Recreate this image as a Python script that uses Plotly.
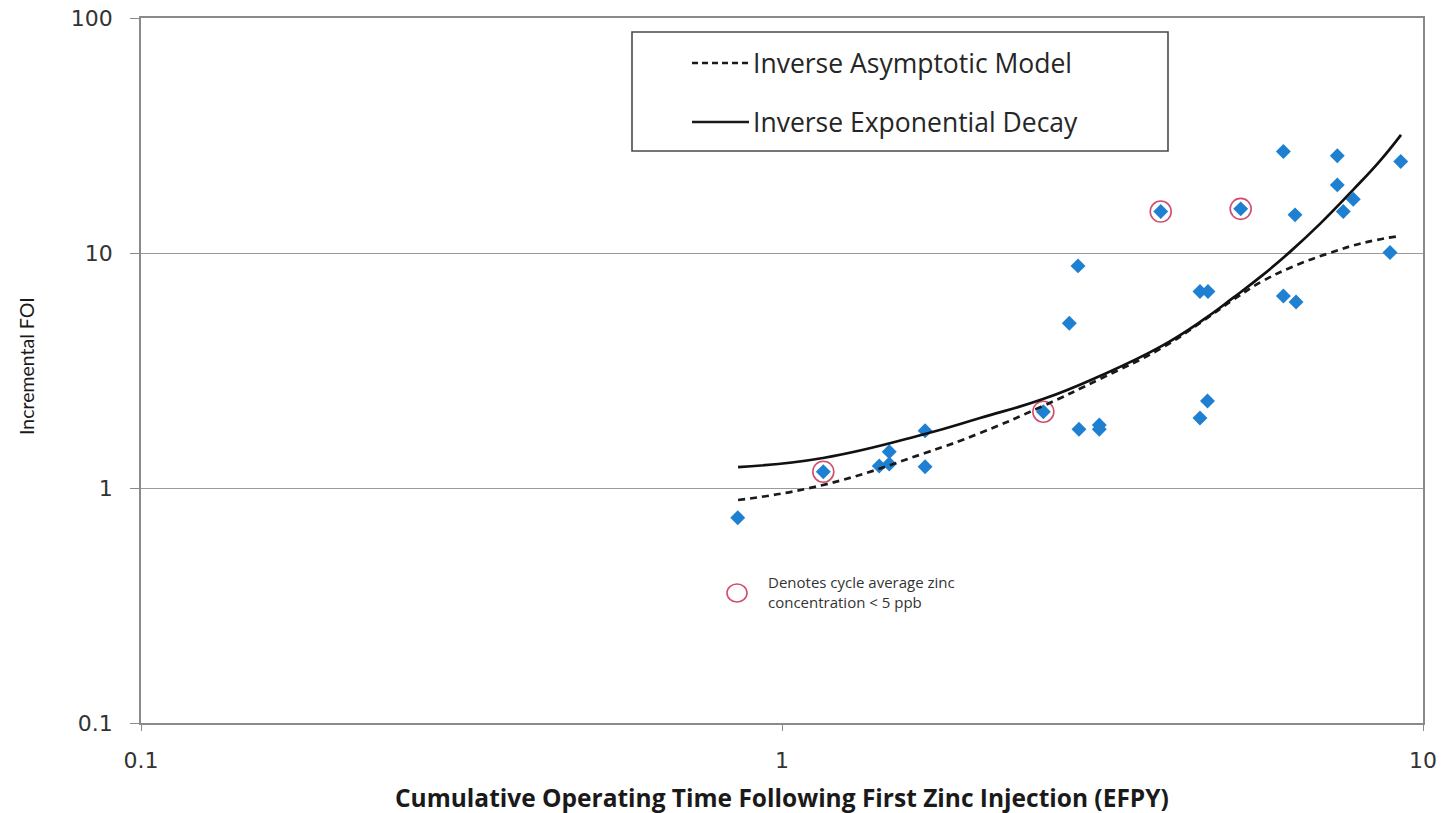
import plotly.graph_objects as go

# Observed incremental FOI versus cumulative operating time (EFPY)
efpy = [0.853, 1.160, 1.418, 1.470, 1.470, 1.672, 1.672, 2.557, 2.807, 2.896,
        2.906, 3.126, 3.126, 3.898, 4.488, 4.619, 4.488, 4.611, 5.195, 6.056,
        6.056, 6.315, 6.338, 7.350, 7.350, 7.510, 7.784, 8.882, 9.231]
foi = [0.747, 1.173, 1.241, 1.427, 1.265, 1.754, 1.232, 2.112, 5.024, 8.814,
       1.778, 1.854, 1.778, 15.01, 6.863, 6.863, 1.986, 2.346, 15.41, 27.02,
       6.568, 14.53, 6.193, 25.91, 19.49, 15.01, 16.94, 10.04, 24.50]
# Cycles with average zinc concentration below 5 ppb
low_zinc_idx = [1, 7, 13, 18]

# Fitted model curves
asym_x = [0.854, 1.159, 1.672, 2.037, 2.554, 3.134, 3.889, 4.537, 5.053,
          5.627, 6.359, 7.160, 8.063, 9.206]
asym_y = [0.889, 1.030, 1.409, 1.714, 2.234, 2.911, 3.906, 5.139, 6.316,
          7.607, 8.898, 10.01, 11.04, 11.82]
expd_x = [0.854, 1.159, 1.672, 2.037, 2.554, 3.134, 3.889, 4.537, 5.053,
          5.627, 6.201, 6.907, 7.779, 8.568, 9.240]
expd_y = [1.228, 1.342, 1.698, 1.986, 2.390, 2.999, 3.984, 5.190, 6.441,
          8.069, 10.11, 13.30, 18.56, 24.67, 31.83]

x_ticks = [0.1, 1, 10]
x_tick_text = ["0.1", "1", "10"]
y_ticks = [0.1, 1, 10, 100]
y_tick_text = ["0.1", "1", "10", "100"]

legend_labels = ["Inverse Asymptotic Model", "Inverse Exponential Decay"]
note_text = "Denotes cycle average zinc<br>concentration &lt; 5 ppb"
x_title = "Cumulative Operating Time Following First Zinc Injection (EFPY)"
y_title = "Incremental FOI"

W, H = 1449, 813
L, R, T, B = 141, 26, 18, 90
pw, ph = W - L - R, H - T - B


def px(xp):
    return (xp - L) / pw


def py(yp):
    return (H - B - yp) / ph


fig = go.Figure()

fig.add_trace(go.Scatter(
    x=[efpy[i] for i in low_zinc_idx], y=[foi[i] for i in low_zinc_idx],
    mode="markers",
    marker=dict(symbol="circle-open", size=21,
                line=dict(color="#d0506c", width=1.6), color="#d0506c"),
    showlegend=False, hoverinfo="skip"))

fig.add_trace(go.Scatter(
    x=efpy, y=foi, mode="markers",
    marker=dict(symbol="diamond", size=11.5, color="#1f80d2",
                line=dict(width=0)),
    showlegend=False))

fig.add_trace(go.Scatter(
    x=asym_x, y=asym_y, mode="lines", line_shape="spline",
    line=dict(color="#1a1a1a", width=2.7, dash="7px,5px", smoothing=1.3),
    name=legend_labels[0], showlegend=False))

fig.add_trace(go.Scatter(
    x=expd_x, y=expd_y, mode="lines", line_shape="spline",
    line=dict(color="#111111", width=2.7, smoothing=1.3),
    name=legend_labels[1], showlegend=False))

tick_font = dict(family="DejaVu Sans", size=22, color="#333333")

fig.update_xaxes(
    type="log", range=[-1, 1], tickvals=x_ticks, ticktext=x_tick_text,
    showgrid=False, showline=True, linecolor="#8a8a8a", linewidth=1.5,
    mirror=True, ticks="outside", ticklen=6, tickcolor="#8a8a8a",
    tickfont=tick_font, ticklabelstandoff=11, zeroline=False,
    automargin=False)

fig.update_yaxes(
    type="log", range=[-1, 2], tickvals=y_ticks, ticktext=y_tick_text,
    showgrid=True, gridcolor="#9a9a9a", gridwidth=1,
    showline=True, linecolor="#8a8a8a", linewidth=1.5, mirror=True,
    ticks="outside", ticklen=9, tickcolor="#8a8a8a",
    tickfont=tick_font, ticklabelstandoff=13, zeroline=False,
    automargin=False)

shapes = []
annotations = []

# Legend box with line samples
shapes.append(dict(type="rect", xref="paper", yref="paper",
                   x0=px(632), x1=px(1168), y0=py(151), y1=py(32),
                   line=dict(color="#4a4a4a", width=1.6),
                   fillcolor="white", layer="above"))
for yp, dash in [(63, "6px,4px"), (122, "solid")]:
    shapes.append(dict(type="line", xref="paper", yref="paper",
                       x0=px(692), x1=px(749), y0=py(yp), y1=py(yp),
                       line=dict(color="#1a1a1a", width=2.4, dash=dash),
                       layer="above"))
for yp, label in [(63, legend_labels[0]), (122, legend_labels[1])]:
    annotations.append(dict(xref="paper", yref="paper", x=px(751), y=py(yp),
                            xanchor="left", yanchor="middle", text=label,
                            showarrow=False,
                            font=dict(family="Open Sans", size=26.5,
                                      color="#262626")))

# Low-zinc key
cx, cy = px(737), py(593)
shapes.append(dict(type="circle", xref="paper", yref="paper",
                   xsizemode="pixel", ysizemode="pixel",
                   xanchor=cx, yanchor=cy, x0=-10, x1=10, y0=-9, y1=9,
                   line=dict(color="#d0506c", width=1.6)))
annotations.append(dict(xref="paper", yref="paper", x=px(766), y=py(592),
                        xanchor="left", yanchor="middle", align="left",
                        text=note_text, showarrow=False,
                        font=dict(family="Open Sans", size=15,
                                  color="#333333")))

# Axis titles
annotations.append(dict(xref="paper", yref="paper", x=0.5, y=0,
                        xanchor="center", yanchor="middle", yshift=-74,
                        text="<b>" + x_title + "</b>", showarrow=False,
                        font=dict(family="Open Sans", size=24.5,
                                  color="#1a1a1a")))
annotations.append(dict(xref="paper", yref="paper", x=0, y=py(366),
                        xanchor="center", yanchor="middle", xshift=-(L - 26),
                        textangle=-90, text=y_title, showarrow=False,
                        font=dict(family="Lato", size=19.5, color="#1a1a1a")))

fig.update_layout(
    width=W, height=H,
    margin=dict(l=L, r=R, t=T, b=B, pad=0, autoexpand=False),
    paper_bgcolor="white", plot_bgcolor="white",
    shapes=shapes, annotations=annotations, showlegend=False)

fig.write_html("out.html")
